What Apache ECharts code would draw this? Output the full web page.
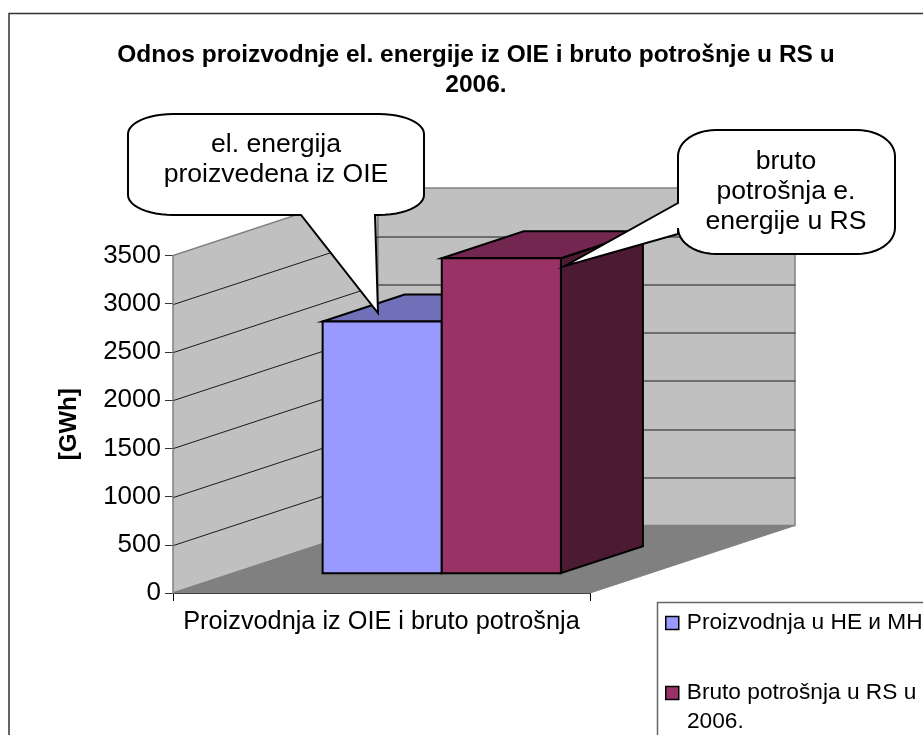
<!DOCTYPE html>
<html><head><meta charset="utf-8">
<style>html,body{margin:0;padding:0;background:#fff;overflow:hidden}#c{width:923px;height:735px}</style>
<script src="https://cdn.jsdelivr.net/npm/echarts@6/dist/echarts.min.js"></script>
</head><body><div id="c"></div>
<script>
const categories = ['Proizvodnja iz OIE i bruto potrošnja'];
const seriesNames = ['Proizvodnja u HE и MHE', 'Bruto potrošnja u RS u'];
const legendSecondLine = '2006.';
const productionValues = [2610];
const consumptionValues = [3265];
const yTicks = [500, 1000, 1500, 2000, 2500, 3000];
const yMax = 3500;
const yStep = 500;
const titleLines = 'Odnos proizvodnje el. energije iz OIE i bruto potrošnje u RS u\n2006.';
const axisTitle = '[GWh]';
const note1 = 'el. energija\nproizvedena iz OIE';
const note2 = 'bruto\npotrošnja e.\nenergije u RS';

const FONT = '"Liberation Sans", Arial, sans-serif';
const DX = 205, DY = -67.5;         // full depth of the 3D box
const FRONT = 0.294, DEPTH = 0.4;   // bar placement in depth
const GAP = 1.5;                    // gap width in bar widths

function poly(points, fill, stroke, lw) {
  return { type: 'polygon', shape: { points },
    style: { fill: fill, stroke: stroke || null, lineWidth: lw || 0 } };
}
function barItem(idx, colors) {
  return function (params, api) {
    const c = api.coord([0, 0]);
    const top = api.coord([0, api.value(1)]);
    const band = api.size([1, 0])[0];
    const w = band / (2 + GAP);
    const fx = DX * FRONT, fy = DY * FRONT, dx = DX * DEPTH, dy = DY * DEPTH;
    const x0 = c[0] - w + idx * w + fx, x1 = x0 + w;
    const y0 = c[1] + fy, y1 = top[1] + fy;
    const S = '#000', L = 2;
    return { type: 'group', children: [
      poly([[x1, y0], [x1 + dx, y0 + dy], [x1 + dx, y1 + dy], [x1, y1]], colors[2], S, L),
      poly([[x0, y1], [x0 + dx, y1 + dy], [x1 + dx, y1 + dy], [x1, y1]], colors[1], S, L),
      poly([[x0, y0], [x1, y0], [x1, y1], [x0, y1]], colors[0], S, L)
    ] };
  };
}
function wallsItem(params, api) {
  const a = api.coord([0, 0]), t = api.coord([0, yMax]);
  const band = api.size([1, 0])[0];
  const l = a[0] - band / 2, r = a[0] + band / 2, b = a[1], u = t[1];
  const wallStroke = '#808080';
  return { type: 'group', children: [
    poly([[l, b], [l + DX, b + DY], [l + DX, u + DY], [l, u]], '#C0C0C0', wallStroke, 1.5),
    poly([[l + DX, b + DY], [r + DX, b + DY], [r + DX, u + DY], [l + DX, u + DY]], '#C0C0C0', wallStroke, 1.5),
    poly([[l, b], [r, b], [r + DX, b + DY], [l + DX, b + DY]], '#808080', '#808080', 1)
  ] };
}
function gridItem(params, api) {
  const a = api.coord([0, api.value(0)]);
  const band = api.size([1, 0])[0];
  const l = Math.round(a[0] - band / 2) + 0.5, r = l + band, y = Math.round(a[1]) + 0.5;
  return { type: 'polyline', shape: { points: [[l, y], [l + DX, y + DY], [r + DX, y + DY]] },
    style: { stroke: '#1a1a1a', lineWidth: 1, fill: null } };
}
// rounded outline sampled into points; tails are lists of points spliced into an edge
function corner(cx, cy, rx, ry, a0, out) {
  for (let i = 0; i <= 12; i++) {
    const a = a0 + (i / 12) * Math.PI / 2;
    out.push([cx + rx * Math.cos(a), cy + ry * Math.sin(a)]);
  }
}
function bubble(x, y, w, h, rx, ry, bottomTail, leftTail) {
  const o = [];
  corner(x + w - rx, y + ry, rx, ry, -Math.PI / 2, o);
  corner(x + w - rx, y + h - ry, rx, ry, 0, o);
  (bottomTail || []).forEach(p => o.push(p));
  corner(x + rx, y + h - ry, rx, ry, Math.PI / 2, o);
  (leftTail || []).forEach(p => o.push(p));
  corner(x + rx, y + ry, rx, ry, Math.PI, o);
  return o;
}

const chart = echarts.init(document.getElementById('c'), null, { renderer: 'canvas' });
chart.setOption({
  animation: false,
  backgroundColor: '#fff',
  title: { text: titleLines, left: 471, top: 35, textAlign: 'center',
    textStyle: { fontFamily: FONT, fontWeight: 'bold', fontSize: 24.5, lineHeight: 30, color: '#000' } },
  grid: { left: 173, top: 255.5, width: 417, height: 337.5, containLabel: false },
  legend: { show: true, orient: 'vertical', left: 665, top: 610, itemWidth: 13, itemHeight: 13, itemGap: 44,
    padding: 0, selectedMode: false,
    data: seriesNames.map((n, i) => ({ name: n, icon: 'rect',
      itemStyle: { color: i ? '#993366' : '#9999FF', borderColor: '#000', borderWidth: 1.5 } })),
    textStyle: { fontFamily: FONT, fontSize: 22.7, lineHeight: 26, color: '#000', padding: [0, 0, 0, 3] } },
  xAxis: { type: 'category', data: categories,
    axisLine: { lineStyle: { color: '#000', width: 1 } },
    axisTick: { show: true, length: 8, lineStyle: { color: '#000' } },
    axisLabel: { fontFamily: FONT, fontSize: 25.3, color: '#000', margin: 17 } },
  yAxis: { type: 'value', min: 0, max: yMax, interval: yStep,
    name: axisTitle, nameLocation: 'middle', nameRotate: 90, nameGap: 92,
    nameTextStyle: { fontFamily: FONT, fontWeight: 'bold', fontSize: 24, color: '#000' },
    axisLine: { show: true, lineStyle: { color: '#555', width: 1 } },
    axisTick: { show: true, length: 8, lineStyle: { color: '#333' } },
    splitLine: { show: false },
    axisLabel: { fontFamily: FONT, fontSize: 26, color: '#000', margin: 12, formatter: v => String(v) } },
  series: [
    { type: 'custom', name: 'walls', silent: true, z: 1, renderItem: wallsItem, data: [[0, yMax]], encode: { x: 0, y: 1 } },
    { type: 'custom', name: 'grid', silent: true, z: 2, renderItem: gridItem, data: yTicks.map(v => [v]), encode: { y: 0 } },
    { type: 'custom', name: seriesNames[0], z: 3, renderItem: barItem(0, ['#9999FF', '#7070B8', '#4C4C80']),
      data: productionValues.map((v, i) => [i, v]), encode: { x: 0, y: 1 }, itemStyle: { color: '#9999FF' } },
    { type: 'custom', name: seriesNames[1], z: 4, renderItem: barItem(1, ['#993366', '#732650', '#4D1A33']),
      data: consumptionValues.map((v, i) => [i, v]), encode: { x: 0, y: 1 }, itemStyle: { color: '#993366' } }
  ],
  graphic: { elements: [
    { type: 'polyline', z: 0, silent: true, shape: { points: [[9, 735], [9, 13.5], [923, 13.5]] },
      style: { fill: null, stroke: '#333', lineWidth: 1.5 } },
    { type: 'polyline', z: 0, silent: true, shape: { points: [[657.5, 735], [657.5, 602.5], [923, 602.5]] },
      style: { fill: null, stroke: '#666', lineWidth: 1.5 } },
    { type: 'text', z: 5, silent: true, x: 687, y: 722, style: { text: legendSecondLine, fill: '#000', align: 'left', verticalAlign: 'middle',
      font: '22.7px ' + FONT } },
    { type: 'polygon', z: 100, silent: true,
      shape: { points: bubble(128, 114, 296, 101, 45, 20, [[375, 215], [378, 313], [301, 215]], null) },
      style: { fill: '#fff', stroke: '#000', lineWidth: 2 } },
    { type: 'text', z: 101, silent: true, x: 276, y: 160, style: { text: note1, fill: '#000', align: 'center', verticalAlign: 'middle',
      font: '26.6px ' + FONT, lineHeight: 30 } },
    { type: 'polygon', z: 100, silent: true,
      shape: { points: bubble(678, 130, 217, 124, 38, 26, null, [[678, 234], [565, 266], [678, 203]]) },
      style: { fill: '#fff', stroke: '#000', lineWidth: 2 } },
    { type: 'text', z: 101, silent: true, x: 786, y: 192, style: { text: note2, fill: '#000', align: 'center', verticalAlign: 'middle',
      font: '26.6px ' + FONT, lineHeight: 30 } }
  ] }
});
</script></body></html>
